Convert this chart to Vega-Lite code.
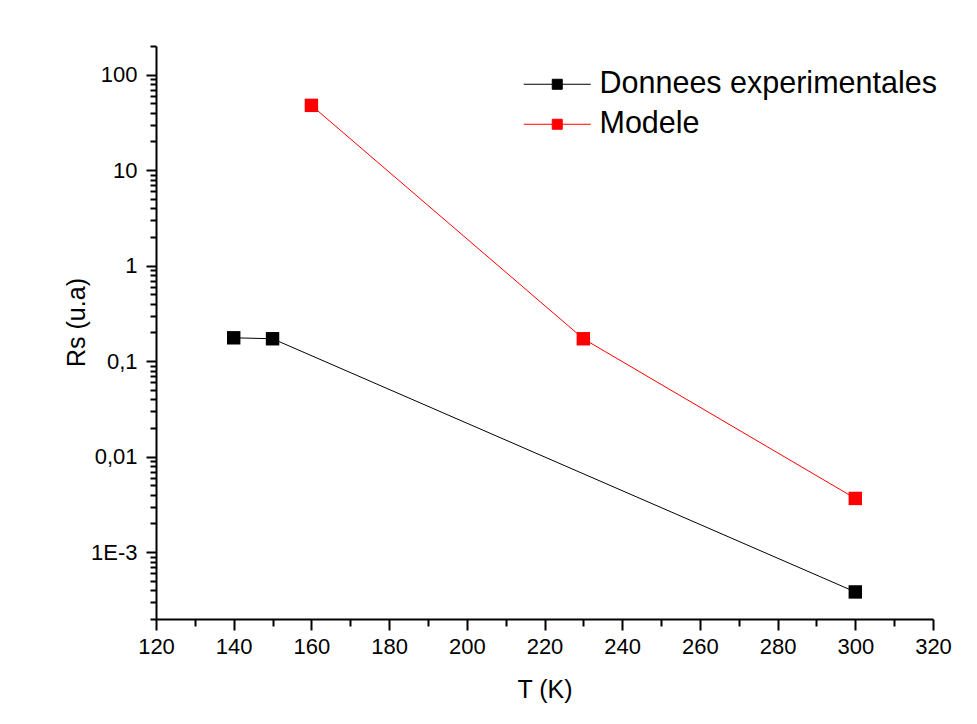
{
  "$schema": "https://vega.github.io/schema/vega-lite/v6.json",
  "width": 777,
  "height": 573,
  "autosize": {"type": "none"},
  "padding": {"left": 156, "top": 46, "right": 44, "bottom": 105},
  "background": "white",
  "config": {"view": {"stroke": null}, "font": "Liberation Sans"},
  "data": {
    "values": [
      {"T": 140, "Rs": 0.176, "serie": "Donnees experimentales"},
      {"T": 150, "Rs": 0.172, "serie": "Donnees experimentales"},
      {"T": 300, "Rs": 0.000384, "serie": "Donnees experimentales"},
      {"T": 160, "Rs": 47.8, "serie": "Modele"},
      {"T": 230, "Rs": 0.172, "serie": "Modele"},
      {"T": 300, "Rs": 0.00366, "serie": "Modele"}
    ]
  },
  "mark": {"type": "line", "strokeWidth": 1, "point": {"shape": "square", "filled": true, "size": 180, "opacity": 1}},
  "encoding": {
    "x": {
      "field": "T", "type": "quantitative",
      "scale": {"domain": [120, 320], "nice": false, "zero": false},
      "axis": {
        "title": "T (K)",
        "values": [120,130,140,150,160,170,180,190,200,210,220,230,240,250,260,270,280,290,300,310,320],
        "labelExpr": "datum.value % 20 == 0 ? datum.label : ''",
        "tickSize": {"condition": {"test": "datum.value % 20 == 0", "value": 11}, "value": 7},
        "grid": false,
        "domainColor": "#000", "domainWidth": 2,
        "tickColor": "#000", "tickWidth": 2,
        "labelFontSize": 22, "labelColor": "#000", "labelPadding": 6, "labelFlush": false, "labelOverlap": false,
        "titleFontSize": 25, "titleFontWeight": "normal", "titleColor": "#000", "titlePadding": 20
      }
    },
    "y": {
      "field": "Rs", "type": "quantitative",
      "scale": {"type": "log", "domain": [0.0002, 200], "nice": false},
      "axis": {
        "title": "Rs (u.a)",
        "values": [0.0002,0.0003,0.0004,0.0005,0.0006,0.0007,0.0008,0.0009,0.001,0.002,0.003,0.004,0.005,0.006,0.007,0.008,0.009,0.01,0.02,0.03,0.04,0.05,0.06,0.07,0.08,0.09,0.1,0.2,0.3,0.4,0.5,0.6,0.7,0.8,0.9,1,2,3,4,5,6,7,8,9,10,20,30,40,50,60,70,80,90,100,200],
        "labelExpr": "datum.value == 100 ? '100' : datum.value == 10 ? '10' : datum.value == 1 ? '1' : datum.value == 0.1 ? '0,1' : datum.value == 0.01 ? '0,01' : datum.value == 0.001 ? '1E-3' : ''",
        "tickSize": {"condition": {"test": "datum.value == 100 || datum.value == 10 || datum.value == 1 || datum.value == 0.1 || datum.value == 0.01 || datum.value == 0.001", "value": 10}, "value": 6},
        "grid": false,
        "domainColor": "#000", "domainWidth": 2,
        "tickColor": "#000", "tickWidth": 2,
        "labelFontSize": 22, "labelColor": "#000", "labelPadding": 9, "labelFlush": false, "labelOverlap": false,
        "titleFontSize": 25, "titleFontWeight": "normal", "titleColor": "#000", "titlePadding": 1, "titleY": 276
      }
    },
    "color": {
      "field": "serie", "type": "nominal",
      "scale": {"domain": ["Donnees experimentales", "Modele"], "range": ["#000000", "#ff0000"]},
      "legend": {
        "orient": "none", "legendX": 386, "legendY": 23,
        "title": null, "padding": 0, "rowPadding": 9,
        "labelFontSize": 30.5, "labelColor": "#000", "labelOffset": 27, "labelLimit": 0,
        "symbolType": "M-6.7,0L-1,0M1,0L6.7,0M-1,-1L1,-1L1,1L-1,1Z",
        "symbolSize": 100, "symbolStrokeWidth": 1,
        "encode": {"symbols": {"update": {"fill": {"scale": "color", "field": "value"}, "stroke": {"scale": "color", "field": "value"}, "opacity": {"value": 1}}}}
      }
    }
  }
}
